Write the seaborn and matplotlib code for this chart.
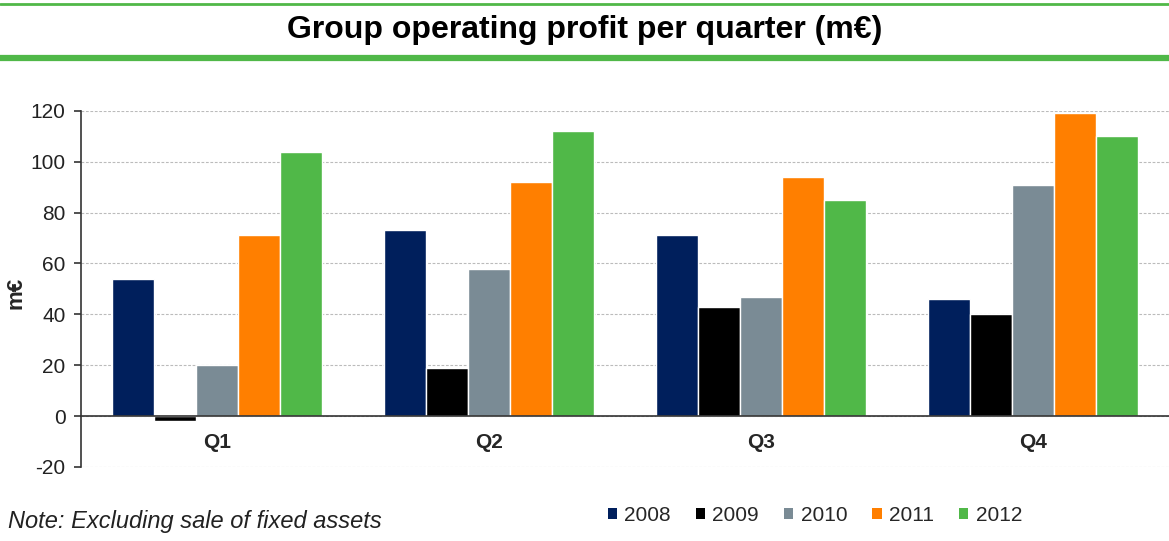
import numpy as np
import pandas as pd
import matplotlib.pyplot as plt
import seaborn as sns
from matplotlib.lines import Line2D
from matplotlib.patches import Patch

quarters = ["Q1", "Q2", "Q3", "Q4"]
years = ["2008", "2009", "2010", "2011", "2012"]
profit_2008 = [54, 73, 71, 46]
profit_2009 = [-2, 19, 43, 40]
profit_2010 = [20, 58, 47, 91]
profit_2011 = [71, 92, 94, 119]
profit_2012 = [104, 112, 85, 110]
colors = ["#001F5C", "#000000", "#7A8B95", "#FF7F00", "#50B848"]

series = [profit_2008, profit_2009, profit_2010, profit_2011, profit_2012]
rows = []
for yr, vals in zip(years, series):
    for q, v in zip(quarters, vals):
        rows.append({"quarter": q, "year": yr, "value": v})
df = pd.DataFrame(rows)

sns.set_style("white")
plt.rcParams["font.family"] = ["Liberation Sans", "DejaVu Sans"]
plt.rcParams["axes.unicode_minus"] = False

fig = plt.figure(figsize=(11.69, 5.41), dpi=100)
ax = fig.add_axes([0.0693, 0.137, 0.9307, 0.658])

sns.barplot(data=df, x="quarter", y="value", hue="year", order=quarters,
            hue_order=years, palette=colors, width=0.77, edgecolor="white",
            linewidth=1, saturation=1, ax=ax, legend=False)

ax.set_ylim(-20, 120)
ax.set_xlim(-0.5, 3.5)
ax.set_yticks(np.arange(-20, 121, 20))
ax.yaxis.grid(True, linestyle=(0, (2.5, 1.5)), color="#BBBBBB", linewidth=0.8)
ax.set_axisbelow(True)

for s in ["top", "right"]:
    ax.spines[s].set_visible(False)
ax.spines["bottom"].set_position(("data", 0))
ax.spines["bottom"].set_color("#333333")
ax.spines["left"].set_color("#333333")
ax.spines["bottom"].set_linewidth(1.2)
ax.spines["left"].set_linewidth(1.2)

ax.set_xticks([0.5, 1.5, 2.5], minor=True)
ax.tick_params(axis="x", which="major", length=0, pad=12, labelsize=15)
ax.tick_params(axis="x", which="minor", length=6, direction="out",
               color="#333333", width=1.2)
ax.tick_params(axis="y", length=5, direction="out", color="#333333",
               width=1.2, labelsize=15, labelcolor="#222222", left=True, pad=6)
for lbl in ax.get_xticklabels():
    lbl.set_fontweight("bold")

ax.set_xlabel("")
ax.set_ylabel("m€", fontsize=16, fontweight="bold")
ax.yaxis.set_label_coords(-0.05, 0.49)

# title band
fig.text(0.5, 0.944, "Group operating profit per quarter (m€)", ha="center",
         va="center", fontsize=23, fontweight="bold", color="black")
fig.add_artist(Line2D([0.0, 1.0], [0.992, 0.992], color="#50B848",
                      linewidth=2, transform=fig.transFigure))
fig.add_artist(Line2D([0.0, 1.0], [0.893, 0.893], color="#50B848",
                      linewidth=4.5, transform=fig.transFigure))

fig.text(0.007, 0.036, "Note: Excluding sale of fixed assets", fontsize=17,
         style="italic", ha="left", va="center", color="#222222")

handles = [Patch(facecolor=c, edgecolor="none", label=y) for c, y in zip(colors, years)]
fig.legend(handles=handles, loc="center", bbox_to_anchor=(0.697, 0.048),
           ncol=5, frameon=False, fontsize=15, handlelength=0.45,
           handleheight=0.45, handletextpad=0.35, columnspacing=1.2)

fig.savefig("out.png", dpi=100)
